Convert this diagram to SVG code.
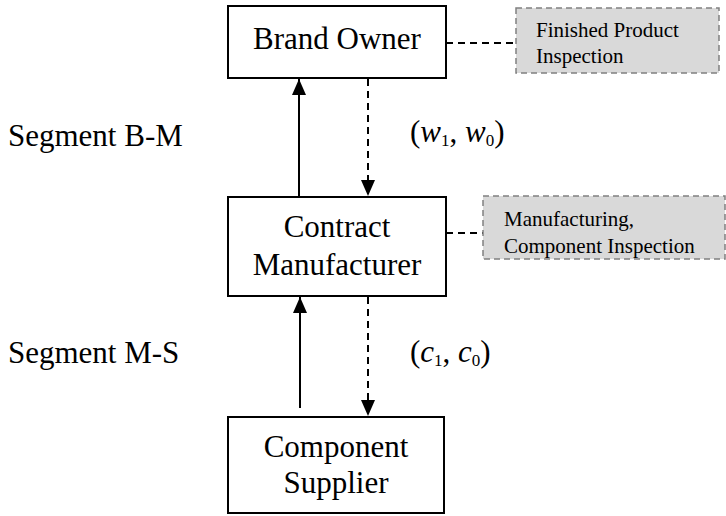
<svg xmlns="http://www.w3.org/2000/svg" width="726" height="516" viewBox="0 0 726 516">
<defs>
<marker id="ah" viewBox="0 0 16 14" refX="16" refY="7" markerWidth="16" markerHeight="14" markerUnits="userSpaceOnUse" orient="auto">
<path d="M0,0 L16,7 L0,14 Z" fill="#000"/>
</marker>
<style>
.box{fill:#fff;stroke:#000;stroke-width:2}
.note{fill:#d9d9d9;stroke:#808080;stroke-width:1.5;stroke-dasharray:6 4}
.t{font-family:"Liberation Serif","Times New Roman",serif;font-size:31px;fill:#000}
.s{font-family:"Liberation Serif","Times New Roman",serif;font-size:21px;fill:#000}
.solid{stroke:#000;stroke-width:2;fill:none}
.dash{stroke:#000;stroke-width:2;fill:none;stroke-dasharray:7 5}
</style>
</defs>
<rect width="726" height="516" fill="#fff"/>
<g id="connectors">
<line class="solid" x1="299" y1="197" x2="299" y2="79" marker-end="url(#ah)"/>
<line class="dash" x1="368" y1="79" x2="368" y2="196" marker-end="url(#ah)"/>
<line class="solid" x1="300" y1="408" x2="300" y2="297" marker-end="url(#ah)"/>
<line class="dash" x1="368" y1="297" x2="368" y2="416" marker-end="url(#ah)"/>
<line class="dash" x1="446" y1="43" x2="516" y2="43"/>
<line class="dash" x1="446" y1="233" x2="483" y2="233"/>
</g>
<g id="brand-owner">
<rect class="box" x="228" y="6" width="218" height="72"/>
<text class="t" x="337" y="49" text-anchor="middle">Brand Owner</text>
</g>
<g id="finished-inspection">
<rect class="note" x="516" y="8" width="203" height="65"/>
<text class="s" x="536" y="37">Finished Product</text>
<text class="s" x="536" y="63">Inspection</text>
</g>
<g id="contract-manufacturer">
<rect class="box" x="228" y="197" width="218" height="99"/>
<text class="t" x="337" y="237" text-anchor="middle">Contract</text>
<text class="t" x="337" y="275" text-anchor="middle">Manufacturer</text>
</g>
<g id="manufacturing-inspection">
<rect class="note" x="483" y="196" width="242" height="63"/>
<text class="s" x="504" y="226">Manufacturing,</text>
<text class="s" x="504" y="253">Component Inspection</text>
</g>
<g id="component-supplier">
<rect class="box" x="228" y="417" width="216" height="96"/>
<text class="t" x="336" y="457" text-anchor="middle">Component</text>
<text class="t" x="336" y="493" text-anchor="middle">Supplier</text>
</g>
<g id="labels">
<text class="t" x="8" y="146">Segment B-M</text>
<text class="t" x="8" y="363">Segment M-S</text>
<text class="t" x="410" y="142" font-size="26">(<tspan font-style="italic">w</tspan><tspan font-size="17" dy="4">1</tspan><tspan dy="-4">, </tspan><tspan font-style="italic">w</tspan><tspan font-size="17" dy="4">0</tspan><tspan dy="-4">)</tspan></text>
<text class="t" x="410" y="362" font-size="26">(<tspan font-style="italic">c</tspan><tspan font-size="17" dy="4">1</tspan><tspan dy="-4">, </tspan><tspan font-style="italic">c</tspan><tspan font-size="17" dy="4">0</tspan><tspan dy="-4">)</tspan></text>
</g>
</svg>
